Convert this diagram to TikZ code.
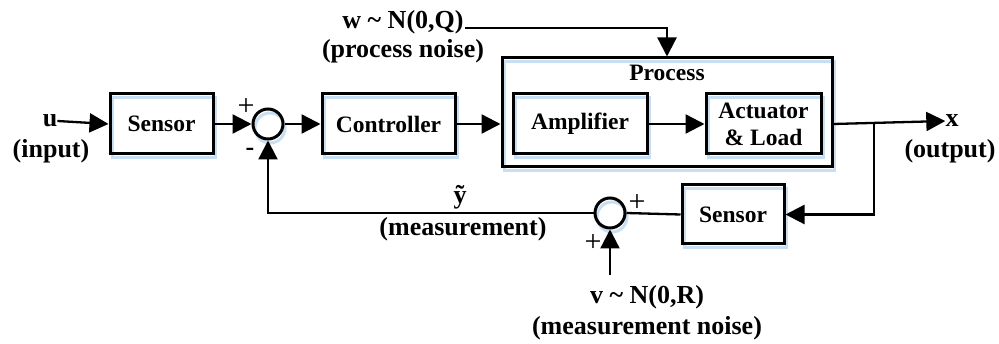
\documentclass[tikz,border=0pt]{standalone}
\usepackage{fontspec}
\setmainfont{Liberation Serif}
\usetikzlibrary{arrows.meta}
\definecolor{shb}{RGB}{200,222,242}
\begin{document}
\begin{tikzpicture}[x=1pt,y=-1pt,
  shadowed/.style={preaction={draw=shb,line width=3pt,transform canvas={xshift=2pt,yshift=-4pt}}},
  blk/.style={draw,line width=3pt,shadowed,inner sep=0pt,align=center,
    font=\bfseries\fontsize{23.5}{27}\selectfont},
  sumc/.style={draw,circle,line width=3pt,shadowed,minimum size=30pt,inner sep=0pt},
  lbl/.style={inner sep=0pt,align=center,font=\bfseries\fontsize{26}{31}\selectfont},
  sgn/.style={inner sep=0pt,font=\fontsize{30}{34}\selectfont},
  conn/.style={line width=2.3pt},
  arr/.style={conn,-{Triangle[length=19pt,width=19pt]}},
]
\useasboundingbox (0,0) rectangle (999,344);

% blocks
\node[blk,minimum width=103pt,minimum height=60pt] (sens1) at (161.5,124) {Sensor};
\node[sumc] (sum1) at (268,124) {};
\node[blk,minimum width=133pt,minimum height=60pt] (ctrl) at (388.5,124) {Controller};
\node[blk,minimum width=330pt,minimum height=109pt] (proc) at (667,112.5) {};
\node[blk,minimum width=134pt,minimum height=60pt] (amp) at (580,124) {Amplifier};
\node[blk,minimum width=115pt,minimum height=60pt] (act) at (763.5,124) {Actuator\\\& Load};
\node[blk,minimum width=102pt,minimum height=59pt] (sens2) at (733,214.5) {Sensor};
\node[sumc] (sum2) at (610,213) {};

% labels
\node[lbl] (u) at (50,121) {u};
\node[lbl] (uin) at (51,151) {(input)};
\node[lbl,font=\bfseries\fontsize{23.5}{27}\selectfont] (ptitle) at (667,73) {Process};
\node[lbl] (x) at (952,121) {x};
\node[lbl] (xout) at (950,151) {(output)};
\node[lbl] (w) at (403,22) {w \textasciitilde{} N(0,Q)};
\node[lbl] (wn) at (403,51) {(process noise)};
\node[lbl] (yt) at (460,197) {ỹ};
\node[lbl] (ym) at (463,229) {(measurement)};
\node[lbl] (v) at (647,297) {v \textasciitilde{} N(0,R)};
\node[lbl] (vn) at (647,328) {(measurement noise)};

\node[sgn] (p1) at (246,107) {+};
\node[lbl] (m1) at (250,152) {-};
\node[sgn] (p2) at (637,203) {+};
\node[sgn] (p3) at (593,243) {+};

% connector points
\coordinate (br) at (874,124);
\coordinate (ws) at (465,28);
\coordinate (vs) at (610,275);

% connectors
\draw[arr] (u.east) -- (sens1.west);
\draw[arr] (sens1.east) -- (sum1.west);
\draw[arr] (sum1.east) -- (ctrl.west);
\draw[arr] (ctrl.east) -- (proc.west |- ctrl.east);
\draw[arr] (amp.east) -- (act.west);
\draw[arr] (proc.east |- act.east) -- (x.west);
\draw[arr] (br) |- (sens2.east);
\draw[conn] (sens2.west) -- (sum2.east);
\draw[arr] (sum2.west) -| (sum1.south);
\draw[arr] (vs) -- (sum2.south);
\draw[arr] (ws) -| (proc.north);
\end{tikzpicture}
\end{document}
